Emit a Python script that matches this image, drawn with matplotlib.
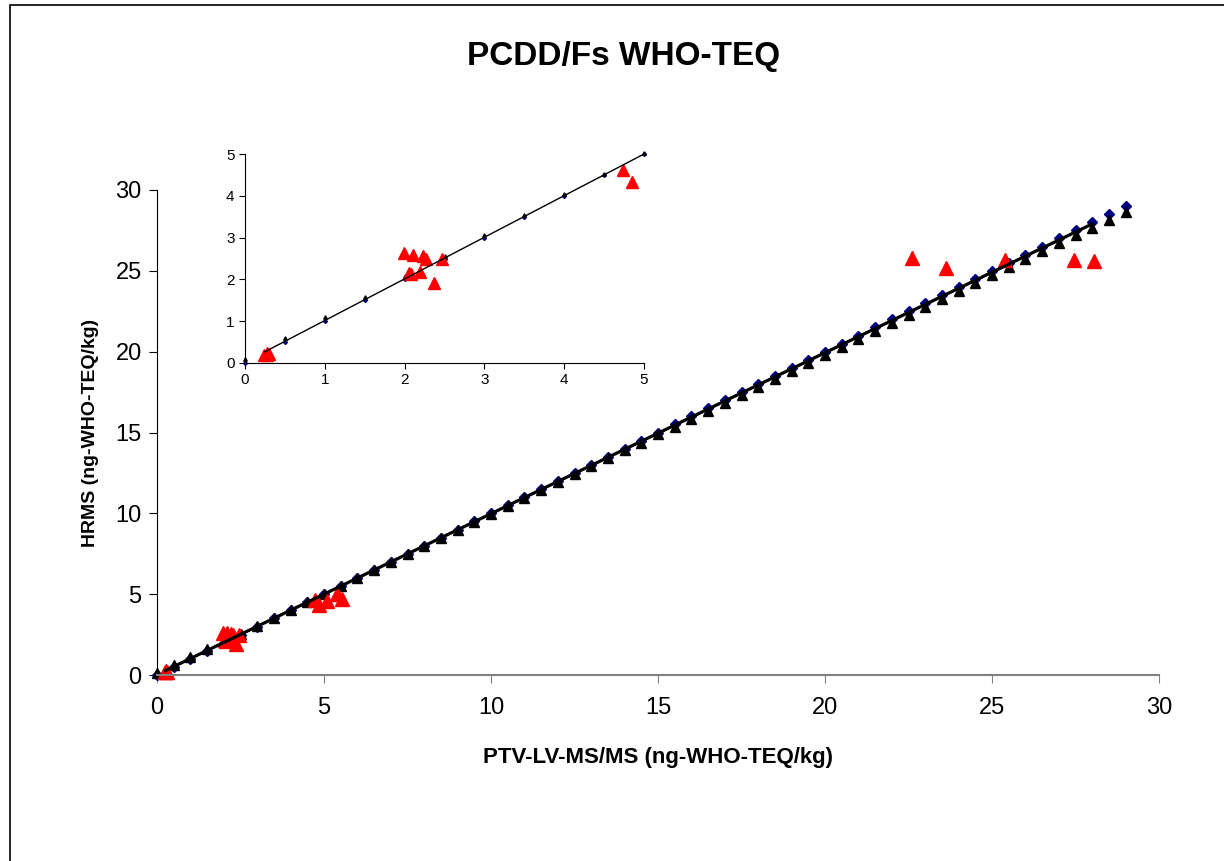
import matplotlib.pyplot as plt
from matplotlib.patches import Rectangle

plt.rcParams['font.family'] = ['Liberation Sans', 'DejaVu Sans']

# reference grid: PTV-LV-MS/MS values (x) and the 1:1 HRMS values
grid_x = [0, 0.5, 1, 1.5, 2, 2.5, 3, 3.5, 4, 4.5, 5, 5.5, 6, 6.5, 7, 7.5, 8, 8.5, 9, 9.5,
          10, 10.5, 11, 11.5, 12, 12.5, 13, 13.5, 14, 14.5, 15, 15.5, 16, 16.5, 17, 17.5,
          18, 18.5, 19, 19.5, 20, 20.5, 21, 21.5, 22, 22.5, 23, 23.5, 24, 24.5, 25, 25.5,
          26, 26.5, 27, 27.5, 28, 28.5, 29]
ideal_y = [0, 0.5, 1, 1.5, 2, 2.5, 3, 3.5, 4, 4.5, 5, 5.5, 6, 6.5, 7, 7.5, 8, 8.5, 9, 9.5,
           10, 10.5, 11, 11.5, 12, 12.5, 13, 13.5, 14, 14.5, 15, 15.5, 16, 16.5, 17, 17.5,
           18, 18.5, 19, 19.5, 20, 20.5, 21, 21.5, 22, 22.5, 23, 23.5, 24, 24.5, 25, 25.5,
           26, 26.5, 27, 27.5, 28, 28.5, 29]
# regression estimate on the same grid
fit_y = [0.10, 0.59, 1.09, 1.58, 2.07, 2.56, 3.06, 3.55, 4.04, 4.53, 5.03, 5.52, 6.01, 6.50,
         7.00, 7.49, 7.98, 8.47, 8.97, 9.46, 9.95, 10.44, 10.94, 11.43, 11.92, 12.41, 12.91,
         13.40, 13.89, 14.38, 14.88, 15.37, 15.86, 16.35, 16.85, 17.34, 17.83, 18.32, 18.82,
         19.31, 19.80, 20.29, 20.79, 21.28, 21.77, 22.26, 22.76, 23.25, 23.74, 24.23, 24.73,
         25.22, 25.71, 26.20, 26.70, 27.19, 27.68, 28.17, 28.67]

# measured samples
ptv = [0.24, 0.27, 0.30, 0.28, 1.99, 2.11, 2.23, 2.27, 2.05, 2.08, 2.19, 2.37, 2.47,
       4.74, 4.85, 5.08, 5.38, 5.53, 22.6, 23.63, 25.39, 27.46, 28.06]
hrms = [0.20, 0.23, 0.21, 0.18, 2.62, 2.58, 2.55, 2.50, 2.15, 2.12, 2.18, 1.91, 2.50,
        4.62, 4.34, 4.60, 5.01, 4.68, 25.77, 25.16, 25.66, 25.66, 25.60]

# trend line end points
line_x = [0.25, 28.0]
line_y = [0.27, 27.9]

fig = plt.figure(figsize=(12.24, 8.61), dpi=100)
fig.patches.append(Rectangle((10 / 1224, -0.1), 1.2, 1.1 - 5 / 861, transform=fig.transFigure,
                             fill=False, edgecolor='black', linewidth=1.2))

ax = fig.add_axes([157 / 1224, 1 - 675 / 861, 1002 / 1224, 485 / 861])
ax.plot(grid_x, ideal_y, linestyle='none', marker='D', color='#000080', markersize=5, clip_on=False)
ax.plot(grid_x, fit_y, linestyle='none', marker='^', color='black', markersize=6.5, clip_on=False)
ax.plot(ptv, hrms, linestyle='none', marker='^', color='red', markersize=9.5, clip_on=False)
ax.plot(line_x, line_y, color='black', linewidth=2.3)
ax.set_xlim(0, 30)
ax.set_ylim(0, 30)
ax.set_xticks([0, 5, 10, 15, 20, 25, 30])
ax.set_yticks([0, 5, 10, 15, 20, 25, 30])
ax.spines['top'].set_visible(False)
ax.spines['right'].set_visible(False)
ax.spines['bottom'].set_color('#808080')
ax.spines['bottom'].set_linewidth(1.5)
ax.tick_params(direction='out', length=6, labelsize=17)
ax.tick_params(axis='x', colors='#808080', labelcolor='black', pad=10)
ax.tick_params(axis='y', pad=5)
ax.set_xlabel('PTV-LV-MS/MS (ng-WHO-TEQ/kg)', fontsize=16, fontweight='bold', labelpad=20)
ax.set_ylabel('HRMS (ng-WHO-TEQ/kg)', fontsize=14, fontweight='bold', labelpad=12)

fig.text(624 / 1224, 1 - 57 / 861, 'PCDD/Fs WHO-TEQ', ha='center', va='center',
         fontsize=24, fontweight='bold')

# zoomed view of the low range
ins = fig.add_axes([245 / 1224, 1 - 363 / 861, 399 / 1224, 209 / 861])
ins.set_facecolor('none')
grid_clip = Rectangle((-0.02, -0.03), 1.04, 1.06, transform=ins.transAxes, visible=False)
red_clip = Rectangle((-0.02, -0.03), 1.017, 1.06, transform=ins.transAxes, visible=False)
ins.add_patch(grid_clip)
ins.add_patch(red_clip)
for xs, ys, mk, col, ms, cp in [(grid_x, ideal_y, 'D', '#000080', 2, grid_clip),
                                (grid_x, fit_y, '^', 'black', 2.5, grid_clip),
                                (ptv, hrms, '^', 'red', 8, red_clip)]:
    mk_line, = ins.plot(xs, ys, linestyle='none', marker=mk, color=col, markersize=ms)
    mk_line.set_clip_path(cp)
ins.plot(line_x, line_y, color='black', linewidth=1)
ins.set_xlim(0, 5)
ins.set_ylim(0, 5)
ins.set_xticks([0, 1, 2, 3, 4, 5])
ins.set_yticks([0, 1, 2, 3, 4, 5])
ins.spines['top'].set_visible(False)
ins.spines['right'].set_visible(False)
ins.tick_params(direction='out', length=4, labelsize=11)

fig.savefig('out.png', dpi=100)
